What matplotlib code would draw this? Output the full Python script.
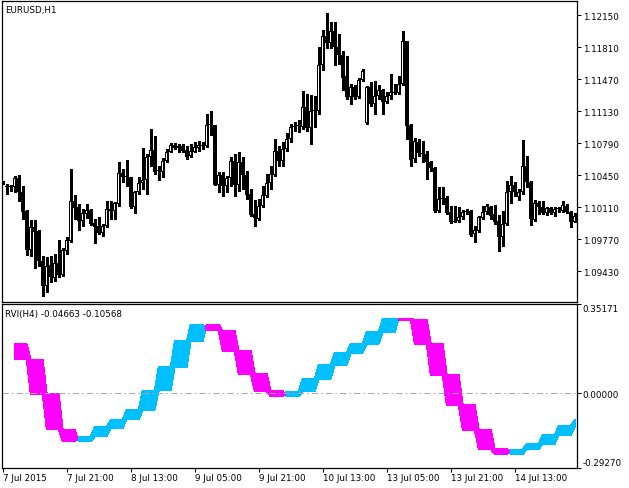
import numpy as np
import matplotlib
matplotlib.use("Agg")
import matplotlib.pyplot as plt

## EURUSD H1 candles, 7 Jul 2015 05:00 -> 15 Jul 2015 04:00
opens = [1.10375, 1.10320, 1.10320, 1.10320, 1.10416, 1.10267, 1.10072, 1.09658, 1.09895, 1.09856,
         1.09534, 1.09276, 1.09495, 1.09354, 1.09516, 1.09389, 1.09647, 1.09754, 1.10171, 1.10115,
         1.09966, 1.10037, 1.10079, 1.09938, 1.09906, 1.09835, 1.09906, 1.10090, 1.10072, 1.10143,
         1.10469, 1.10433, 1.10426, 1.10108, 1.10267, 1.10362, 1.10401, 1.10639, 1.10716, 1.10497,
         1.10486, 1.10603, 1.10699, 1.10770, 1.10734, 1.10755, 1.10716, 1.10649, 1.10699, 1.10734,
         1.10763, 1.10761, 1.10984, 1.10984, 1.10348, 1.10451, 1.10331, 1.10416, 1.10596, 1.10348,
         1.10586, 1.10451, 1.10249, 1.10037, 1.09984, 1.10125, 1.10231, 1.10362, 1.10451, 1.10702,
         1.10603, 1.10727, 1.10833, 1.10964, 1.10974, 1.10964, 1.11169, 1.10946, 1.11134, 1.11134,
         1.11622, 1.11923, 1.11849, 1.11976, 1.11814, 1.11729, 1.11498, 1.11282, 1.11389, 1.11282,
         1.11459, 1.10999, 1.11389, 1.11200, 1.11293, 1.11353, 1.11222, 1.11293, 1.11328, 1.11321,
         1.11417, 1.11870, 1.10981, 1.10620, 1.10803, 1.10679, 1.10669, 1.10592, 1.10521, 1.10071,
         1.10195, 1.10202, 1.10053, 1.09954, 1.09957, 1.10000, 1.10060, 1.10071, 1.09823, 1.09859,
         1.09993, 1.10053, 1.10106, 1.10035, 1.09965, 1.09788, 1.09929, 1.10266, 1.10344, 1.10213,
         1.10266, 1.10542, 1.10379, 1.09975, 1.10153, 1.10106, 1.10046, 1.10098, 1.10046, 1.10089,
         1.10071, 1.10124, 1.10060, 1.09954]
highs = [1.10385, 1.10355, 1.10345, 1.10444, 1.10451, 1.10331, 1.10083, 1.09973, 1.09973, 1.09870,
         1.09594, 1.09584, 1.09594, 1.09612, 1.09764, 1.09672, 1.09789, 1.10515, 1.10239, 1.10143,
         1.10090, 1.10143, 1.10090, 1.09984, 1.10001, 1.09931, 1.10178, 1.10178, 1.10168, 1.10586,
         1.10515, 1.10614, 1.10430, 1.10285, 1.10426, 1.10734, 1.10674, 1.10939, 1.10864, 1.10550,
         1.10628, 1.10727, 1.10791, 1.10791, 1.10780, 1.10780, 1.10763, 1.10780, 1.10798, 1.10816,
         1.10798, 1.11098, 1.11126, 1.10984, 1.10479, 1.10479, 1.10444, 1.10639, 1.10674, 1.10692,
         1.10639, 1.10497, 1.10302, 1.10185, 1.10196, 1.10338, 1.10462, 1.10550, 1.10833, 1.10763,
         1.10798, 1.10893, 1.10992, 1.11010, 1.11038, 1.11346, 1.11311, 1.11300, 1.11293, 1.11806,
         1.11994, 1.12171, 1.12072, 1.12079, 1.11948, 1.11771, 1.11711, 1.11417, 1.11406, 1.11477,
         1.11576, 1.11399, 1.11442, 1.11452, 1.11406, 1.11364, 1.11328, 1.11523, 1.11417, 1.11498,
         1.11976, 1.11870, 1.10992, 1.10840, 1.10833, 1.10815, 1.10704, 1.10602, 1.10531, 1.10319,
         1.10319, 1.10230, 1.10124, 1.10117, 1.10106, 1.10081, 1.10089, 1.10081, 1.09912, 1.10011,
         1.10124, 1.10142, 1.10124, 1.10131, 1.10025, 1.10071, 1.10390, 1.10436, 1.10379, 1.10301,
         1.10825, 1.10655, 1.10390, 1.10188, 1.10177, 1.10177, 1.10106, 1.10106, 1.10106, 1.10106,
         1.10177, 1.10142, 1.10071, 1.10046]
lows = [1.10360, 1.10249, 1.10285, 1.10274, 1.10178, 1.09984, 1.09601, 1.09587, 1.09460, 1.09488,
        1.09163, 1.09205, 1.09318, 1.09329, 1.09364, 1.09382, 1.09612, 1.09743, 1.09984, 1.09870,
        1.09906, 1.09994, 1.09924, 1.09729, 1.09824, 1.09807, 1.09895, 1.09984, 1.09984, 1.10125,
        1.10373, 1.10338, 1.10101, 1.10047, 1.10249, 1.10302, 1.10249, 1.10550, 1.10462, 1.10401,
        1.10426, 1.10586, 1.10692, 1.10727, 1.10692, 1.10692, 1.10621, 1.10639, 1.10692, 1.10709,
        1.10727, 1.10744, 1.10875, 1.10347, 1.10267, 1.10231, 1.10267, 1.10338, 1.10231, 1.10285,
        1.10302, 1.10196, 1.10012, 1.09913, 1.09973, 1.10108, 1.10214, 1.10302, 1.10437, 1.10550,
        1.10550, 1.10709, 1.10797, 1.10921, 1.10903, 1.10939, 1.10921, 1.10779, 1.10956, 1.11098,
        1.11566, 1.11796, 1.11796, 1.11619, 1.11629, 1.11357, 1.11257, 1.11206, 1.11257, 1.11268,
        1.11452, 1.10992, 1.11188, 1.11098, 1.11257, 1.11098, 1.11211, 1.11257, 1.11313, 1.11313,
        1.11406, 1.10833, 1.10542, 1.10585, 1.10650, 1.10585, 1.10407, 1.10496, 1.10060, 1.10053,
        1.10142, 1.10035, 1.09940, 1.09954, 1.09947, 1.09982, 1.10035, 1.09805, 1.09735, 1.09848,
        1.09982, 1.10035, 1.09982, 1.09929, 1.09646, 1.09699, 1.09919, 1.10153, 1.10230, 1.10188,
        1.10248, 1.10319, 1.09919, 1.09965, 1.10035, 1.10035, 1.10025, 1.10035, 1.10018, 1.10053,
        1.10060, 1.10046, 1.09894, 1.09947]
closes = [1.10370, 1.10338, 1.10322, 1.10416, 1.10267, 1.10062, 1.09658, 1.09895, 1.09849, 1.09541,
          1.09276, 1.09488, 1.09364, 1.09516, 1.09389, 1.09654, 1.09761, 1.10171, 1.10101, 1.09966,
          1.10047, 1.10079, 1.09931, 1.09902, 1.09835, 1.09906, 1.10090, 1.10072, 1.10150, 1.10469,
          1.10433, 1.10430, 1.10108, 1.10267, 1.10366, 1.10401, 1.10639, 1.10716, 1.10486, 1.10493,
          1.10603, 1.10699, 1.10770, 1.10734, 1.10755, 1.10709, 1.10639, 1.10702, 1.10745, 1.10770,
          1.10766, 1.10984, 1.10980, 1.10347, 1.10451, 1.10331, 1.10416, 1.10596, 1.10348, 1.10586,
          1.10454, 1.10242, 1.10026, 1.09991, 1.10125, 1.10242, 1.10362, 1.10462, 1.10702, 1.10603,
          1.10727, 1.10833, 1.10964, 1.10974, 1.10970, 1.11169, 1.10946, 1.11134, 1.11137, 1.11622,
          1.11923, 1.11849, 1.11976, 1.11814, 1.11729, 1.11484, 1.11275, 1.11389, 1.11282, 1.11459,
          1.11551, 1.11389, 1.11200, 1.11293, 1.11353, 1.11222, 1.11293, 1.11328, 1.11325, 1.11417,
          1.11870, 1.10974, 1.10613, 1.10815, 1.10679, 1.10672, 1.10585, 1.10521, 1.10071, 1.10195,
          1.10192, 1.10046, 1.09954, 1.09957, 1.10000, 1.10060, 1.10071, 1.09812, 1.09869, 1.10000,
          1.10053, 1.10124, 1.10018, 1.09954, 1.09788, 1.09929, 1.10266, 1.10344, 1.10266, 1.10266,
          1.10542, 1.10372, 1.09982, 1.10153, 1.10106, 1.10046, 1.10098, 1.10046, 1.10089, 1.10085,
          1.10131, 1.10060, 1.09954, 1.10011]

## RVI of H4 bars (08:00 on 7 Jul onwards), main and signal line
rvi_main = [0.1333, -0.0021, -0.1428, -0.1901, -0.1704, -0.1336, -0.1046, -0.0652, 0.0111, 0.1031,
            0.2056, 0.2701, 0.2477, 0.1662, 0.0768, 0.0084, -0.0126, 0.0071, 0.0571, 0.1123,
            0.1596, 0.1951, 0.2411, 0.2937, 0.2898, 0.1951, 0.0728, -0.0455, -0.1441, -0.2190,
            -0.2387, -0.2216, -0.1993, -0.1638, -0.1296, -0.1046]
rvi_signal = [0.1925, 0.1320, -0.0021, -0.1441, -0.1901, -0.1704, -0.1362, -0.1033, -0.0652, 0.0111,
              0.1031, 0.2056, 0.2701, 0.2451, 0.1662, 0.0768, 0.0084, -0.0126, 0.0084, 0.0571,
              0.1123, 0.1596, 0.1951, 0.2411, 0.2937, 0.2898, 0.1951, 0.0728, -0.0455, -0.1441,
              -0.2190, -0.2387, -0.2216, -0.1993, -0.1638, -0.1336]

price_ticks = [1.12150, 1.11810, 1.11470, 1.11130, 1.10790, 1.10450, 1.10110, 1.09770, 1.09430]
price_range = (1.09101, 1.12299)
rvi_range = (-0.29270, 0.35171)
time_tick_bars = [0, 16, 32, 48, 64, 80, 96, 112, 128]
time_tick_labels = ["7 Jul 2015", "7 Jul 21:00", "8 Jul 13:00", "9 Jul 05:00", "9 Jul 21:00",
                    "10 Jul 13:00", "13 Jul 05:00", "13 Jul 21:00", "14 Jul 13:00"]

W, H = 629, 489
FS = 6.3
plt.rcParams['font.family'] = ['DejaVu Sans']

fig = plt.figure(figsize=(W / 100.0, H / 100.0), dpi=100)
ax = fig.add_axes([2.0 / W, 1 - 303.0 / H, 575.0 / W, 301.0 / H])
ax2 = fig.add_axes([2.0 / W, 1 - 468.5 / H, 575.0 / W, 163.5 / H])

x = np.arange(len(opens))
o = np.array(opens)
c = np.array(closes)
hi = np.array(highs)
lo = np.array(lows)

##------------------##
## Candles          ##
##------------------##
## one screen pixel in price units
px = (price_range[1] - price_range[0]) / 301.0

ax.vlines(x, lo, hi, color='black', linewidth=0.75, antialiased=False, zorder=1)
bull = c >= o
bottom = np.minimum(o, c)
height = np.maximum(np.abs(c - o), px)
## outer black box, 3 px wide
ax.bar(x, height, bottom=bottom, width=0.75, color='black', linewidth=0,
       antialiased=False, zorder=2)
## white inside of the rising candles
inner_h = height - 2 * px
keep = bull & (inner_h > 0)
ax.bar(x[keep], inner_h[keep], bottom=bottom[keep] + px, width=0.26, color='white',
       linewidth=0, antialiased=False, zorder=3)

ax.set_xlim(-0.18, 143.57)
ax.set_ylim(*price_range)
ax.set_xticks([])
ax.yaxis.tick_right()
ax.set_yticks(price_ticks)
ax.set_yticklabels(["%.5f" % p for p in price_ticks])
ax.tick_params(axis='y', direction='out', length=3, width=0.75, pad=1, labelsize=FS)
ax.text(0.005, 0.988, "EURUSD,H1", transform=ax.transAxes, fontsize=FS, va='top', ha='left')

##------------------##
## RVI(H4) filling  ##
##------------------##
## each H1 bar takes the value of the H4 bar it belongs to (bar 0 is 05:00)
block = (x + 1) // 4 - 1
valid = block >= 0
m = np.full(len(x), np.nan)
s = np.full(len(x), np.nan)
m[valid] = np.array(rvi_main)[block[valid]]
s[valid] = np.array(rvi_signal)[block[valid]]

ax2.fill_between(x, m, s, where=m >= s, interpolate=True, color='#00BFFF',
                 linewidth=0.6, edgecolor='#00BFFF', antialiased=False)
ax2.fill_between(x, m, s, where=m <= s, interpolate=True, color='#FF00FF',
                 linewidth=0.6, edgecolor='#FF00FF', antialiased=False)
ax2.axhline(0.0, color='#a8a8a8', linewidth=0.75, dashes=(6, 3, 1.5, 3))

ax2.set_xlim(-0.18, 143.57)
ax2.set_ylim(*rvi_range)
ax2.yaxis.tick_right()
ax2.set_yticks([rvi_range[0], 0.0, rvi_range[1]])
ax2.set_yticklabels(["%.5f" % rvi_range[0], "0.00000", "%.5f" % rvi_range[1]])
ylabs = ax2.get_yticklabels()
ylabs[0].set_verticalalignment('bottom')
ylabs[2].set_verticalalignment('top')
ax2.set_xticks(time_tick_bars)
ax2.set_xticklabels(time_tick_labels, ha='left')
ax2.tick_params(axis='both', direction='out', length=3, width=0.75, pad=1, labelsize=FS)
ax2.text(0.005, 0.972, "RVI(H4) -0.04663 -0.10568", transform=ax2.transAxes,
         fontsize=FS, va='top', ha='left')

for a in (ax, ax2):
    for sp in a.spines.values():
        sp.set_linewidth(0.9)
        sp.set_color('black')

fig.savefig("out.png", dpi=100, facecolor='white')
